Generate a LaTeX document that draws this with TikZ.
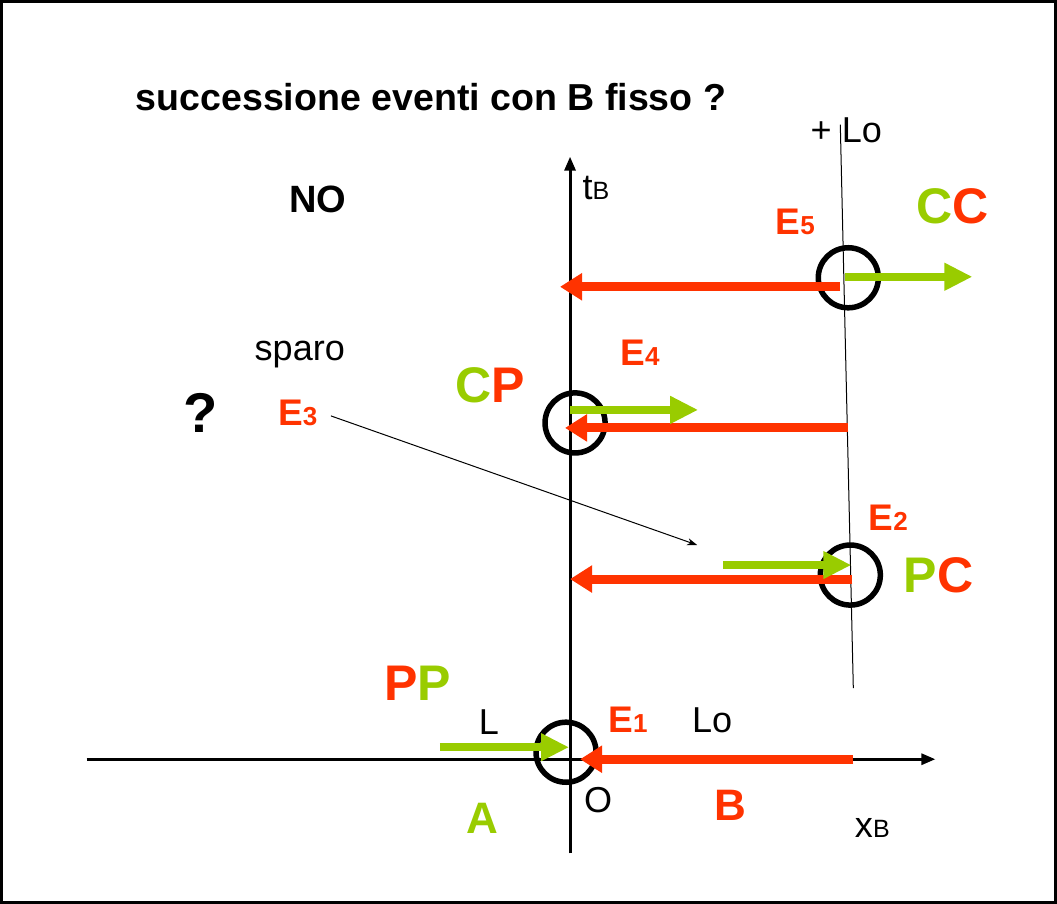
\documentclass[tikz,border=0pt]{standalone}
\usepackage{fontspec}
\setmainfont{Liberation Sans}
\usetikzlibrary{arrows.meta}
\definecolor{rosso}{HTML}{FF3300}
\definecolor{verde}{HTML}{99CC00}
\newcommand{\ev}[1]{E{\fontsize{26}{26}\selectfont #1}}
\begin{document}
\begin{tikzpicture}[x=1pt, y=-1pt,
        axis/.style={line width=3pt, -{Triangle[length=14pt, width=11pt]}},
        evt/.style={circle, draw, line width=5.5pt, minimum size=60pt, inner sep=0pt},
        rarrow/.style={rosso, line width=9pt, -{Triangle[length=22pt, width=26pt]}},
        garrow/.style={verde, line width=8pt, -{Triangle[length=28pt, width=26pt]}},
        txt/.style={font=\fontsize{36}{36}\selectfont},
        big/.style={font=\fontsize{50}{50}\selectfont\bfseries},
        lab/.style={rosso, font=\fontsize{37}{37}\selectfont\bfseries}
    ]
        % frame
        \draw[line width=3pt] (2,2) rectangle (1055,902);

        % axes
        \coordinate (xs) at (87,759);
        \coordinate (xe) at (935,759);
        \coordinate (ys) at (570,853);
        \coordinate (ye) at (570,157);
        \draw[axis] (xs) -- (xe);
        \draw[axis] (ys) -- (ye);

        % world line of the far end
        \coordinate (ws) at (840,125);
        \coordinate (we) at (853,688);
        \draw[line width=1pt] (ws) -- (we);

        % events
        \node[evt] (c1) at (566,752) {};
        \node[evt] (c2) at (850,575) {};
        \node[evt] (c4) at (575,423) {};
        \node[evt] (c5) at (848,278) {};

        % red arrows
        \coordinate (r1a) at (853,759); \coordinate (r1b) at (580,759);
        \coordinate (r2a) at (852,579); \coordinate (r2b) at (570,579);
        \coordinate (r4a) at (848,428); \coordinate (r4b) at (565,428);
        \coordinate (r5a) at (840,287); \coordinate (r5b) at (560,287);
        \draw[rarrow] (r1a) -- (r1b);
        \draw[rarrow] (r2a) -- (r2b);
        \draw[rarrow] (r4a) -- (r4b);
        \draw[rarrow] (r5a) -- (r5b);

        % green arrows
        \coordinate (g1a) at (440,747); \coordinate (g1b) at (569,747);
        \coordinate (g2a) at (723,565); \coordinate (g2b) at (851,565);
        \coordinate (g4a) at (570,410); \coordinate (g4b) at (698,410);
        \coordinate (g5a) at (845,277); \coordinate (g5b) at (972,277);
        \draw[garrow] (g1a) -- (g1b);
        \draw[garrow] (g2a) -- (g2b);
        \draw[garrow] (g4a) -- (g4b);
        \draw[garrow] (g5a) -- (g5b);

        % labels
        \node[font=\fontsize{37.5}{37.5}\selectfont\bfseries] (title) at (431,97) {successione eventi con B fisso ?};
        \node[txt] (lo) at (846,131) {+ Lo};
        \node[txt] (tb) at (596,188) {t{\fontsize{25}{25}\selectfont B}};
        \node[font=\fontsize{38}{38}\selectfont\bfseries] (no) at (318,200) {NO};
        \node[lab] (e5) at (795,222) {\ev{5}};
        \node[big] (cc) at (952,207) {\textcolor{verde}{C}\textcolor{rosso}{C}};
        \node[txt] (sparo) at (300,355) {sparo};
        \node[lab] (e4) at (640,353) {\ev{4}};
        \node[big] (cp) at (490,385) {\textcolor{verde}{C}\textcolor{rosso}{P}};
        \node[font=\fontsize{56}{56}\selectfont\bfseries] (q) at (201,413) {?};
        \node[lab] (e3) at (298,413) {\ev{3}};
        \node[lab] (e2) at (888,518) {\ev{2}};
        \node[big] (pc) at (938,575) {\textcolor{verde}{P}\textcolor{rosso}{C}};
        \node[big] (pp) at (418,683) {\textcolor{rosso}{P}\textcolor{verde}{P}};
        \node[txt] (l) at (489,722) {L};
        \node[lab] (e1) at (628,720) {\ev{1}};
        \node[txt] (lo2) at (712,720) {Lo};
        \node[verde, font=\fontsize{44}{44}\selectfont\bfseries] (a) at (482,818) {A};
        \node[txt] (o) at (598,800) {O};
        \node[rosso, font=\fontsize{44}{44}\selectfont\bfseries] (b) at (730,805) {B};
        \node[txt] (xb) at (872,828) {x{\fontsize{25}{25}\selectfont B}};

        % shot
        \coordinate (shot) at (697,545);
        \draw[line width=1pt, -{Stealth[length=10pt, width=7pt]}] (e3.east) ++(10,3) -- (shot);
    \end{tikzpicture}
\end{document}
